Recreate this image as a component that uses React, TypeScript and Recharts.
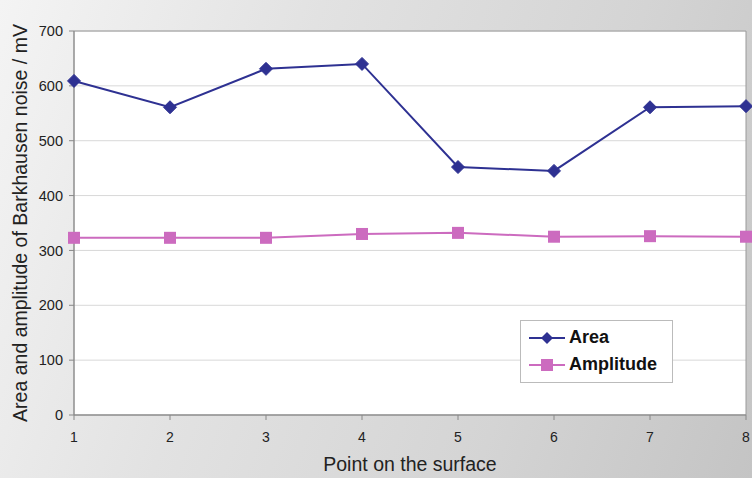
import React from "react";
import { ComposedChart, Line, XAxis, YAxis, CartesianGrid, ReferenceArea } from "recharts";

const points = [1, 2, 3, 4, 5, 6, 7, 8];
const areaValues = [609, 561, 631, 640, 452, 445, 561, 563];
const amplitudeValues = [323, 323, 323, 330, 332, 325, 326, 325];
const yTicks = [0, 100, 200, 300, 400, 500, 600, 700];

const data = points.map((p, i) => ({ point: p, area: areaValues[i], amplitude: amplitudeValues[i] }));

const AREA_COLOR = "#2E3192";
const AMP_COLOR = "#CC6BBF";
const FONT = "'Liberation Sans', Arial, sans-serif";

const Diamond = (props: any) => {
  const { cx, cy } = props;
  if (cx == null || cy == null) return null;
  const r = 6.5;
  return <path d={`M${cx},${cy - r}L${cx + r},${cy}L${cx},${cy + r}L${cx - r},${cy}Z`} fill={AREA_COLOR} stroke={AREA_COLOR} />;
};

const Square = (props: any) => {
  const { cx, cy } = props;
  if (cx == null || cy == null) return null;
  const s = 6;
  return <rect x={cx - s} y={cy - s} width={2 * s} height={2 * s} fill={AMP_COLOR} />;
};

const LegendBox = () => (
  <div style={{ position: "absolute", left: 520, top: 320, background: "white", border: "1px solid #bbb", width: 153, height: 63, boxSizing: "border-box", fontFamily: FONT, fontWeight: "bold", fontSize: 18, color: "#111", padding: "3px 0 0 6px" }}>
    <div style={{ display: "flex", alignItems: "center", height: 27 }}>
      <svg width={40} height={20}>
        <line x1={2} y1={10} x2={38} y2={10} stroke={AREA_COLOR} strokeWidth={2} />
        <path d="M20,4L26,10L20,16L14,10Z" fill={AREA_COLOR} />
      </svg>
      <span style={{ marginLeft: 2 }}>Area</span>
    </div>
    <div style={{ display: "flex", alignItems: "center", height: 27 }}>
      <svg width={40} height={20}>
        <line x1={2} y1={10} x2={38} y2={10} stroke={AMP_COLOR} strokeWidth={2} />
        <rect x={14} y={4} width={12} height={12} fill={AMP_COLOR} />
      </svg>
      <span style={{ marginLeft: 2 }}>Amplitude</span>
    </div>
  </div>
);

export default function App() {
  return (
    <div style={{ position: "absolute", left: 0, top: 0, width: 752, height: 478, background: "linear-gradient(110deg, #f4f4f4 0%, #e2e2e2 35%, #d4d4d4 70%, #c4c4c4 100%)" }}>
      <ComposedChart width={752} height={478} data={data} margin={{ top: 31, right: 6, left: 0, bottom: 0 }}>
        <CartesianGrid horizontal vertical={false} stroke="#d8d8d8" fill="#ffffff" />
        <ReferenceArea x1={1} x2={8} y1={0} y2={700} fill="none" stroke="#9a9a9a" strokeWidth={1} ifOverflow="visible" />
        <XAxis
          dataKey="point"
          type="number"
          domain={[1, 8]}
          ticks={points}
          height={63}
          stroke="#888"
          tickSize={5}
          tick={{ fill: "#222", fontSize: 14, fontFamily: FONT }}
          tickMargin={12}
          label={{ value: "Point on the surface", position: "insideBottom", offset: 7, fill: "#222", fontSize: 19.5, fontFamily: FONT }}
        />
        <YAxis
          type="number"
          domain={[0, 700]}
          ticks={yTicks}
          width={74}
          stroke="#888"
          tickSize={5}
          tick={{ fill: "#222", fontSize: 14.5, fontFamily: FONT }}
          tickMargin={6}
          label={{ value: "Area and amplitude of Barkhausen noise / mV", angle: -90, position: "insideLeft", offset: 20, style: { textAnchor: "middle" }, fill: "#222", fontSize: 19.5, fontFamily: FONT }}
        />
        <Line dataKey="area" stroke={AREA_COLOR} strokeWidth={2} dot={<Diamond />} isAnimationActive={false} />
        <Line dataKey="amplitude" stroke={AMP_COLOR} strokeWidth={2} dot={<Square />} isAnimationActive={false} />
      </ComposedChart>
      <LegendBox />
    </div>
  );
}
